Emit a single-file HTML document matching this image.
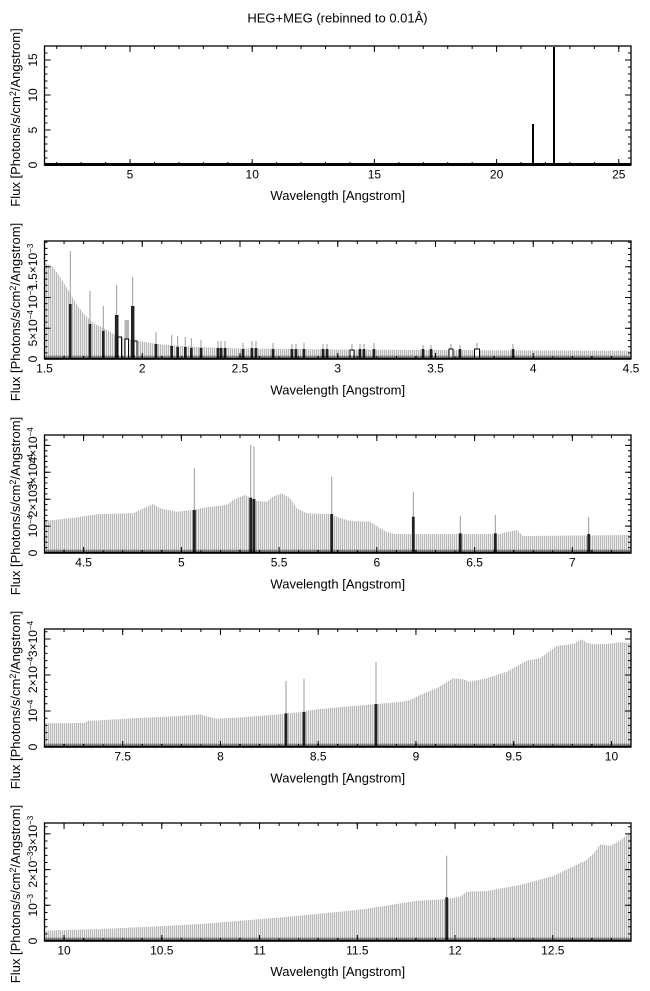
<!DOCTYPE html>
<html>
<head>
<meta charset="utf-8">
<style>
html,body{margin:0;padding:0;background:#fff;}
svg{display:block;}
text{font-family:"Liberation Sans","DejaVu Sans",sans-serif;fill:#000;}
.t{font-size:12px;}
.l{font-size:13px;}
.fr{fill:none;stroke:#000;stroke-width:1.3;}
.er{stroke:#9a9a9a;stroke-width:1;}
.bar{fill:#222;}
.hol{fill:#fff;stroke:#000;stroke-width:1;}
.tk{stroke:#000;fill:none;}
</style>
</head>
<body>
<svg width="650" height="991" viewBox="0 0 650 991" xmlns="http://www.w3.org/2000/svg">
<defs>
<pattern id="h" patternUnits="userSpaceOnUse" width="2" height="4">
<rect x="0" y="0" width="2" height="4" fill="#ececec"/>
<rect x="0" y="0" width="1" height="4" fill="#b8b8b8"/>
</pattern>
</defs>
<rect x="0" y="0" width="650" height="991" fill="#fff"/>

<text class="l" x="337.5" y="22.5" text-anchor="middle">HEG+MEG (rebinned to 0.01Å)</text>

<!-- ================= PANEL 1 ================= -->
<g>
<line x1="472" y1="165" x2="472" y2="163" stroke="#000" stroke-width="2"/>
<line x1="475" y1="165" x2="475" y2="163" stroke="#000" stroke-width="2"/>
<line x1="533" y1="165" x2="533" y2="124" stroke="#000" stroke-width="2"/>
<line x1="554" y1="165" x2="554" y2="47" stroke="#000" stroke-width="2"/>
<rect x="44.5" y="163" width="586.5" height="3" fill="#000"/>
<line class="tk" x1="56.22" y1="163.5" x2="631" y2="163.5" stroke-width="3" stroke-dasharray="1 23.4375"/>
<line class="tk" x1="56.22" y1="47.5" x2="631" y2="47.5" stroke-width="3" stroke-dasharray="1 23.4375"/>
<line class="tk" x1="129.53" y1="162" x2="631" y2="162" stroke-width="6" stroke-dasharray="1 121.1875"/>
<line class="tk" x1="129.53" y1="49" x2="631" y2="49" stroke-width="6" stroke-dasharray="1 121.1875"/>
<line class="tk" x1="46" y1="165.5" x2="46" y2="46" stroke-width="3" stroke-dasharray="1 6"/>
<line class="tk" x1="629.5" y1="165.5" x2="629.5" y2="46" stroke-width="3" stroke-dasharray="1 6"/>
<line class="tk" x1="47.5" y1="165.5" x2="47.5" y2="46" stroke-width="6" stroke-dasharray="1 34"/>
<line class="tk" x1="628" y1="165.5" x2="628" y2="46" stroke-width="6" stroke-dasharray="1 34"/>
<rect class="fr" x="44.5" y="46" width="586.5" height="119"/>
<text class="t" x="130.03" y="178.5" text-anchor="middle">5</text>
<text class="t" x="252.22" y="178.5" text-anchor="middle">10</text>
<text class="t" x="374.41" y="178.5" text-anchor="middle">15</text>
<text class="t" x="496.59" y="178.5" text-anchor="middle">20</text>
<text class="t" x="618.78" y="178.5" text-anchor="middle">25</text>
<text class="t" transform="translate(37,165) rotate(-90)" text-anchor="middle">0</text>
<text class="t" transform="translate(37,130) rotate(-90)" text-anchor="middle">5</text>
<text class="t" transform="translate(37,95) rotate(-90)" text-anchor="middle">10</text>
<text class="t" transform="translate(37,60) rotate(-90)" text-anchor="middle">15</text>
<text class="l" x="337.75" y="200" text-anchor="middle">Wavelength [Angstrom]</text>
<text class="l" transform="translate(20,117.5) rotate(-90)" text-anchor="middle">Flux [Photons/s/cm<tspan dy="-4" font-size="9">2</tspan><tspan dy="4">/Angstrom]</tspan></text>
</g>

<!-- ================= PANEL 2 ================= -->
<g>
<polygon fill="url(#h)" points="44.5,359 44.5,263 53,267 60,277 67,288 77,305 83,313 93,323 107,330 117,336 133,340 150,343 167,345 197,347 240,348.5 340,349.5 440,350 540,350.5 631,350.7 631,359"/>
<g class="er">
<line x1="70.3" y1="304" x2="70.3" y2="251"/>
<line x1="90" y1="324" x2="90" y2="291"/>
<line x1="103.3" y1="331" x2="103.3" y2="306"/>
<line x1="116.7" y1="315" x2="116.7" y2="285"/>
<line x1="126.7" y1="339" x2="126.7" y2="320"/>
<line x1="132.7" y1="306" x2="132.7" y2="277"/>
<line x1="156" y1="344" x2="156" y2="332"/>
<line x1="171.7" y1="346" x2="171.7" y2="335"/>
<line x1="177.7" y1="347" x2="177.7" y2="336"/>
<line x1="185.3" y1="347" x2="185.3" y2="337"/>
<line x1="191.3" y1="348" x2="191.3" y2="338"/>
<line x1="201" y1="348" x2="201" y2="340"/>
<line x1="218" y1="348" x2="218" y2="341"/>
<line x1="221" y1="348" x2="221" y2="341"/>
<line x1="225" y1="348" x2="225" y2="341"/>
<line x1="243" y1="349" x2="243" y2="343"/>
<line x1="252" y1="348" x2="252" y2="341"/>
<line x1="256" y1="348" x2="256" y2="341"/>
<line x1="273" y1="349" x2="273" y2="343"/>
<line x1="292" y1="349" x2="292" y2="344"/>
<line x1="296" y1="349" x2="296" y2="344"/>
<line x1="304" y1="349" x2="304" y2="343"/>
<line x1="323" y1="349" x2="323" y2="344"/>
<line x1="327" y1="349" x2="327" y2="344"/>
<line x1="352" y1="350" x2="352" y2="344"/>
<line x1="360" y1="349" x2="360" y2="344"/>
<line x1="364" y1="349" x2="364" y2="344"/>
<line x1="374" y1="349" x2="374" y2="343"/>
<line x1="423" y1="349" x2="423" y2="345"/>
<line x1="431" y1="349" x2="431" y2="345"/>
<line x1="451" y1="349" x2="451" y2="344"/>
<line x1="460" y1="349" x2="460" y2="345"/>
<line x1="477" y1="349" x2="477" y2="343"/>
<line x1="513" y1="349" x2="513" y2="344"/>
</g>
<rect x="124.5" y="320" width="4.5" height="39" fill="#b4b4b4"/>
<g class="bar">
<rect x="69" y="304" width="2.6" height="55"/>
<rect x="88.7" y="324" width="2.6" height="35"/>
<rect x="102" y="331" width="2.6" height="28"/>
<rect x="114.9" y="315" width="3.6" height="44"/>
<rect x="131" y="306" width="3.4" height="53"/>
<rect x="154.7" y="344" width="2.6" height="15"/>
<rect x="170.4" y="346" width="2.6" height="13"/>
<rect x="176.4" y="347" width="2.6" height="12"/>
<rect x="184" y="347" width="2.6" height="12"/>
<rect x="190" y="348" width="2.6" height="11"/>
<rect x="199.7" y="348" width="2.6" height="11"/>
<rect x="216.7" y="348" width="2.6" height="11"/>
<rect x="219.7" y="348" width="2.6" height="11"/>
<rect x="223.7" y="348" width="2.6" height="11"/>
<rect x="241.7" y="349" width="2.6" height="10"/>
<rect x="250.7" y="348" width="2.6" height="11"/>
<rect x="254.7" y="348" width="2.6" height="11"/>
<rect x="271.7" y="349" width="2.6" height="10"/>
<rect x="290.7" y="349" width="2.6" height="10"/>
<rect x="294.7" y="349" width="2.6" height="10"/>
<rect x="302.7" y="349" width="2.6" height="10"/>
<rect x="321.7" y="349" width="2.6" height="10"/>
<rect x="325.7" y="349" width="2.6" height="10"/>
<rect x="358.7" y="349" width="2.6" height="10"/>
<rect x="362.7" y="349" width="2.6" height="10"/>
<rect x="372.7" y="349" width="2.6" height="10"/>
<rect x="421.7" y="349" width="2.6" height="10"/>
<rect x="429.7" y="349" width="2.6" height="10"/>
<rect x="458.7" y="349" width="2.6" height="10"/>
<rect x="511.7" y="349" width="2.6" height="10"/>
</g>
<rect class="hol" x="118" y="337" width="3.5" height="22"/>
<rect class="hol" x="125" y="339" width="3.5" height="20"/>
<rect class="hol" x="134" y="341" width="3" height="18"/>
<rect class="hol" x="350" y="350" width="4" height="9"/>
<rect class="hol" x="449" y="349" width="4" height="10"/>
<rect class="hol" x="474.5" y="349" width="5" height="10"/>
<line x1="44.5" y1="356.3" x2="631" y2="356.3" stroke="#000" stroke-width="1" stroke-dasharray="1 1"/>
<rect x="44.5" y="357.5" width="586.5" height="2.2" fill="#000"/>
<line class="tk" x1="44" y1="357.5" x2="632" y2="357.5" stroke-width="3" stroke-dasharray="1 18.55"/>
<line class="tk" x1="44" y1="242.5" x2="632" y2="242.5" stroke-width="3" stroke-dasharray="1 18.55"/>
<line class="tk" x1="44" y1="356" x2="632" y2="356" stroke-width="6" stroke-dasharray="1 96.75"/>
<line class="tk" x1="44" y1="244" x2="632" y2="244" stroke-width="6" stroke-dasharray="1 96.75"/>
<line class="tk" x1="46" y1="359.5" x2="46" y2="241" stroke-width="3" stroke-dasharray="1 5.146"/>
<line class="tk" x1="629.5" y1="359.5" x2="629.5" y2="241" stroke-width="3" stroke-dasharray="1 5.146"/>
<line class="tk" x1="47.5" y1="359.5" x2="47.5" y2="241" stroke-width="6" stroke-dasharray="1 29.73"/>
<line class="tk" x1="628" y1="359.5" x2="628" y2="241" stroke-width="6" stroke-dasharray="1 29.73"/>
<rect class="fr" x="44.5" y="241" width="586.5" height="118"/>
<text class="t" x="44.5" y="372.5" text-anchor="middle">1.5</text>
<text class="t" x="142.25" y="372.5" text-anchor="middle">2</text>
<text class="t" x="240" y="372.5" text-anchor="middle">2.5</text>
<text class="t" x="337.75" y="372.5" text-anchor="middle">3</text>
<text class="t" x="435.5" y="372.5" text-anchor="middle">3.5</text>
<text class="t" x="533.25" y="372.5" text-anchor="middle">4</text>
<text class="t" x="631" y="372.5" text-anchor="middle">4.5</text>
<text class="t" transform="translate(37,359) rotate(-90)" text-anchor="middle">0</text>
<text class="t" transform="translate(37,328.3) rotate(-90)" text-anchor="middle">5×10<tspan dy="-4" font-size="8">−4</tspan></text>
<text class="t" transform="translate(37,297.5) rotate(-90)" text-anchor="middle">10<tspan dy="-4" font-size="8">−3</tspan></text>
<text class="t" transform="translate(37,266.8) rotate(-90)" text-anchor="middle">1.5×10<tspan dy="-4" font-size="8">−3</tspan></text>
<text class="l" x="337.75" y="394.5" text-anchor="middle">Wavelength [Angstrom]</text>
<text class="l" transform="translate(20,312) rotate(-90)" text-anchor="middle">Flux [Photons/s/cm<tspan dy="-4" font-size="9">2</tspan><tspan dy="4">/Angstrom]</tspan></text>
</g>

<!-- ================= PANEL 3 ================= -->
<g>
<polygon fill="url(#h)" points="44.5,553 44.5,521 80,517 86.7,515.7 100,514 133,513.3 140,510 153,504 160,508.3 176.7,511.7 193,510 206.7,507.3 226.7,505 233,500 245,495 256.7,501 266.7,501.7 273,496.7 281.7,493.3 290,498.3 296.7,508.3 306.7,513.3 330,514.3 336.7,516.7 350,521 370,521.7 380,528 386.7,532 395,534 500,534 505,532.5 517,530 523,536 631,535 631,553"/>
<g class="er">
<line x1="194.3" y1="510" x2="194.3" y2="468.3"/>
<line x1="250.7" y1="497.7" x2="250.7" y2="445"/>
<line x1="254" y1="499" x2="254" y2="446.7"/>
<line x1="331.7" y1="514" x2="331.7" y2="476.7"/>
<line x1="413.3" y1="516.7" x2="413.3" y2="491.7"/>
<line x1="460.3" y1="533.3" x2="460.3" y2="515.7"/>
<line x1="495.3" y1="533.3" x2="495.3" y2="515"/>
<line x1="588.7" y1="534" x2="588.7" y2="517.3"/>
</g>
<g class="bar">
<rect x="192.8" y="510" width="3" height="43"/>
<rect x="249.3" y="497.7" width="2.8" height="55.3"/>
<rect x="252.6" y="499" width="2.8" height="54"/>
<rect x="330.3" y="514" width="2.8" height="39"/>
<rect x="411.9" y="516.7" width="2.8" height="36.3"/>
<rect x="458.9" y="533.3" width="2.8" height="19.7"/>
<rect x="493.9" y="533.3" width="2.8" height="19.7"/>
<rect x="587.3" y="534" width="2.8" height="19"/>
</g>
<line x1="44.5" y1="550.3" x2="631" y2="550.3" stroke="#000" stroke-width="1" stroke-dasharray="1 1"/>
<rect x="44.5" y="551.5" width="586.5" height="2.2" fill="#000"/>
<line class="tk" x1="44" y1="551.5" x2="632" y2="551.5" stroke-width="3" stroke-dasharray="1 18.55"/>
<line class="tk" x1="44" y1="436.5" x2="632" y2="436.5" stroke-width="3" stroke-dasharray="1 18.55"/>
<line class="tk" x1="83.1" y1="550" x2="632" y2="550" stroke-width="6" stroke-dasharray="1 96.75"/>
<line class="tk" x1="83.1" y1="438" x2="632" y2="438" stroke-width="6" stroke-dasharray="1 96.75"/>
<line class="tk" x1="46" y1="553.5" x2="46" y2="435" stroke-width="3" stroke-dasharray="1 4.38"/>
<line class="tk" x1="629.5" y1="553.5" x2="629.5" y2="435" stroke-width="3" stroke-dasharray="1 4.38"/>
<line class="tk" x1="47.5" y1="553.5" x2="47.5" y2="435" stroke-width="6" stroke-dasharray="1 25.9"/>
<line class="tk" x1="628" y1="553.5" x2="628" y2="435" stroke-width="6" stroke-dasharray="1 25.9"/>
<rect class="fr" x="44.5" y="435" width="586.5" height="118"/>
<text class="t" x="83.6" y="566.5" text-anchor="middle">4.5</text>
<text class="t" x="181.35" y="566.5" text-anchor="middle">5</text>
<text class="t" x="279.1" y="566.5" text-anchor="middle">5.5</text>
<text class="t" x="376.85" y="566.5" text-anchor="middle">6</text>
<text class="t" x="474.6" y="566.5" text-anchor="middle">6.5</text>
<text class="t" x="572.35" y="566.5" text-anchor="middle">7</text>
<text class="t" transform="translate(37,553) rotate(-90)" text-anchor="middle">0</text>
<text class="t" transform="translate(37,526.1) rotate(-90)" text-anchor="middle">10<tspan dy="-4" font-size="8">−4</tspan></text>
<text class="t" transform="translate(37,499.2) rotate(-90)" text-anchor="middle">2×10<tspan dy="-4" font-size="8">−4</tspan></text>
<text class="t" transform="translate(37,472.3) rotate(-90)" text-anchor="middle">3×10<tspan dy="-4" font-size="8">−4</tspan></text>
<text class="t" transform="translate(37,445.4) rotate(-90)" text-anchor="middle">4×10<tspan dy="-4" font-size="8">−4</tspan></text>
<text class="l" x="337.75" y="588.5" text-anchor="middle">Wavelength [Angstrom]</text>
<text class="l" transform="translate(20,506) rotate(-90)" text-anchor="middle">Flux [Photons/s/cm<tspan dy="-4" font-size="9">2</tspan><tspan dy="4">/Angstrom]</tspan></text>
</g>

<!-- ================= PANEL 4 ================= -->
<g>
<polygon fill="url(#h)" points="44.5,747 44.5,723.3 85,723 87,721 133,718.3 166.7,716.7 195,715 200,714.3 205,716 216.7,718.7 243,717.3 283,714 300,712 316.7,709.3 373.3,704.3 400,702 410,700 420,695 436.7,688.3 453.3,678.3 463,679.3 470,681.7 486.7,678.3 506.7,671.7 526.7,660.7 540,658.3 556.7,646 573.3,644 581.7,639.3 587,643 593.3,644.3 606.7,644 620,642.3 631,643.3 631,747"/>
<g class="er">
<line x1="286" y1="713.3" x2="286" y2="681"/>
<line x1="304" y1="712" x2="304" y2="679"/>
<line x1="376" y1="704" x2="376" y2="662.3"/>
</g>
<g class="bar">
<rect x="284.6" y="713.3" width="2.8" height="33.7"/>
<rect x="302.6" y="712" width="2.8" height="35"/>
<rect x="374.6" y="704" width="2.8" height="43"/>
</g>
<line x1="44.5" y1="744.3" x2="631" y2="744.3" stroke="#000" stroke-width="1" stroke-dasharray="1 1"/>
<rect x="44.5" y="745.5" width="586.5" height="2.2" fill="#000"/>
<line class="tk" x1="44" y1="745.5" x2="632" y2="745.5" stroke-width="3" stroke-dasharray="1 18.55"/>
<line class="tk" x1="44" y1="630.5" x2="632" y2="630.5" stroke-width="3" stroke-dasharray="1 18.55"/>
<line class="tk" x1="122.2" y1="744" x2="632" y2="744" stroke-width="6" stroke-dasharray="1 96.75"/>
<line class="tk" x1="122.2" y1="632" x2="632" y2="632" stroke-width="6" stroke-dasharray="1 96.75"/>
<line class="tk" x1="46" y1="747.5" x2="46" y2="629" stroke-width="3" stroke-dasharray="1 6.2"/>
<line class="tk" x1="629.5" y1="747.5" x2="629.5" y2="629" stroke-width="3" stroke-dasharray="1 6.2"/>
<line class="tk" x1="47.5" y1="747.5" x2="47.5" y2="629" stroke-width="6" stroke-dasharray="1 35"/>
<line class="tk" x1="628" y1="747.5" x2="628" y2="629" stroke-width="6" stroke-dasharray="1 35"/>
<rect class="fr" x="44.5" y="629" width="586.5" height="118"/>
<text class="t" x="122.7" y="760.5" text-anchor="middle">7.5</text>
<text class="t" x="220.45" y="760.5" text-anchor="middle">8</text>
<text class="t" x="318.2" y="760.5" text-anchor="middle">8.5</text>
<text class="t" x="415.95" y="760.5" text-anchor="middle">9</text>
<text class="t" x="513.7" y="760.5" text-anchor="middle">9.5</text>
<text class="t" x="611.45" y="760.5" text-anchor="middle">10</text>
<text class="t" transform="translate(37,747) rotate(-90)" text-anchor="middle">0</text>
<text class="t" transform="translate(37,711) rotate(-90)" text-anchor="middle">10<tspan dy="-4" font-size="8">−4</tspan></text>
<text class="t" transform="translate(37,675) rotate(-90)" text-anchor="middle">2×10<tspan dy="-4" font-size="8">−4</tspan></text>
<text class="t" transform="translate(37,639) rotate(-90)" text-anchor="middle">3×10<tspan dy="-4" font-size="8">−4</tspan></text>
<text class="l" x="337.75" y="782.5" text-anchor="middle">Wavelength [Angstrom]</text>
<text class="l" transform="translate(20,700) rotate(-90)" text-anchor="middle">Flux [Photons/s/cm<tspan dy="-4" font-size="9">2</tspan><tspan dy="4">/Angstrom]</tspan></text>
</g>

<!-- ================= PANEL 5 ================= -->
<g>
<polygon fill="url(#h)" points="44.5,941 44.5,930.7 100,929 150,926.7 200,924 250,920 283,917.3 330,912.7 363.3,909.3 416.7,900.7 443.3,899.3 460,897 466.7,891.7 486.7,891 520,885 553.3,876 586.7,860 595,852 600,844.3 610,846 620,840.7 628,834 631,833 631,941"/>
<line class="er" x1="446.7" y1="897.3" x2="446.7" y2="855.7"/>
<rect class="bar" x="445.3" y="897.3" width="2.8" height="43.7"/>
<line x1="44.5" y1="938.3" x2="631" y2="938.3" stroke="#000" stroke-width="1" stroke-dasharray="1 1"/>
<rect x="44.5" y="939.5" width="586.5" height="2.2" fill="#000"/>
<line class="tk" x1="44" y1="939.5" x2="632" y2="939.5" stroke-width="3" stroke-dasharray="1 18.55"/>
<line class="tk" x1="44" y1="824.5" x2="632" y2="824.5" stroke-width="3" stroke-dasharray="1 18.55"/>
<line class="tk" x1="63.55" y1="938" x2="632" y2="938" stroke-width="6" stroke-dasharray="1 96.75"/>
<line class="tk" x1="63.55" y1="826" x2="632" y2="826" stroke-width="6" stroke-dasharray="1 96.75"/>
<line class="tk" x1="46" y1="941.5" x2="46" y2="823" stroke-width="3" stroke-dasharray="1 6.14"/>
<line class="tk" x1="629.5" y1="941.5" x2="629.5" y2="823" stroke-width="3" stroke-dasharray="1 6.14"/>
<line class="tk" x1="47.5" y1="941.5" x2="47.5" y2="823" stroke-width="6" stroke-dasharray="1 34.7"/>
<line class="tk" x1="628" y1="941.5" x2="628" y2="823" stroke-width="6" stroke-dasharray="1 34.7"/>
<rect class="fr" x="44.5" y="823" width="586.5" height="118"/>
<text class="t" x="64.05" y="954.5" text-anchor="middle">10</text>
<text class="t" x="161.8" y="954.5" text-anchor="middle">10.5</text>
<text class="t" x="259.55" y="954.5" text-anchor="middle">11</text>
<text class="t" x="357.3" y="954.5" text-anchor="middle">11.5</text>
<text class="t" x="455.05" y="954.5" text-anchor="middle">12</text>
<text class="t" x="552.8" y="954.5" text-anchor="middle">12.5</text>
<text class="t" transform="translate(37,941) rotate(-90)" text-anchor="middle">0</text>
<text class="t" transform="translate(37,905.3) rotate(-90)" text-anchor="middle">10<tspan dy="-4" font-size="8">−3</tspan></text>
<text class="t" transform="translate(37,869.6) rotate(-90)" text-anchor="middle">2×10<tspan dy="-4" font-size="8">−3</tspan></text>
<text class="t" transform="translate(37,833.9) rotate(-90)" text-anchor="middle">3×10<tspan dy="-4" font-size="8">−3</tspan></text>
<text class="l" x="337.75" y="976" text-anchor="middle">Wavelength [Angstrom]</text>
<text class="l" transform="translate(20,894) rotate(-90)" text-anchor="middle">Flux [Photons/s/cm<tspan dy="-4" font-size="9">2</tspan><tspan dy="4">/Angstrom]</tspan></text>
</g>
</svg>
</body>
</html>
